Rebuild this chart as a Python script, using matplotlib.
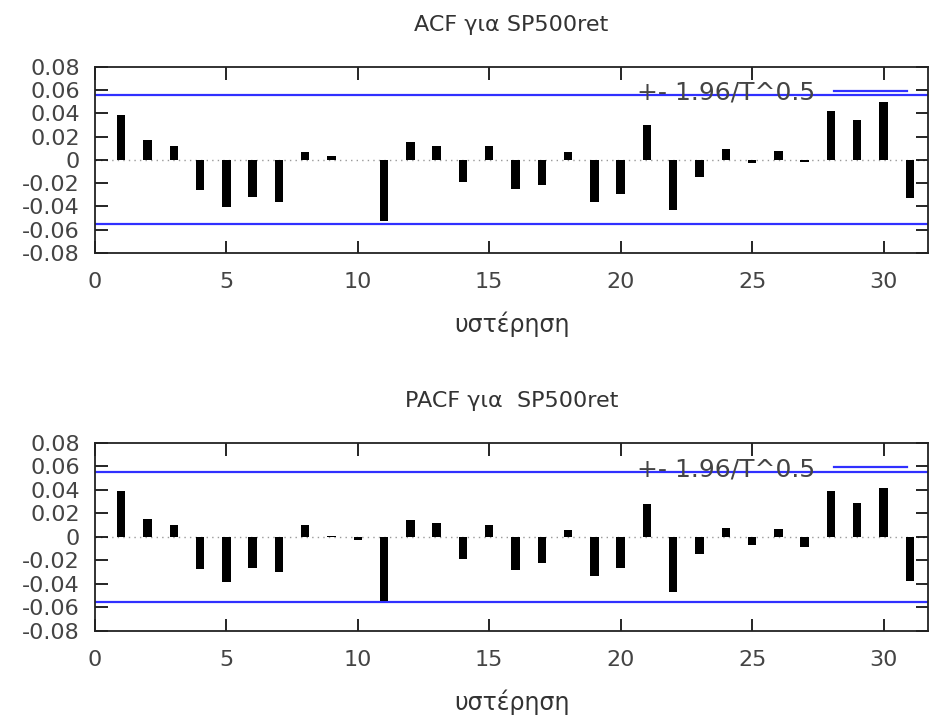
import matplotlib
matplotlib.use('Agg')
import matplotlib.pyplot as plt
import numpy as np

lags = np.arange(1, 32)
acf = [0.039, 0.017, 0.012, -0.026, -0.041, -0.032, -0.036, 0.007, 0.003, -0.0005,
       -0.053, 0.015, 0.012, -0.019, 0.012, -0.025, -0.022, 0.007, -0.036, -0.029,
       0.030, -0.043, -0.015, 0.0096, -0.003, 0.008, -0.0015, 0.042, 0.034, 0.050,
       -0.033]
pacf = [0.039, 0.0148, 0.010, -0.0275, -0.0386, -0.027, -0.030, 0.010, 0.001, -0.003,
        -0.055, 0.0145, 0.0116, -0.019, 0.010, -0.028, -0.022, 0.006, -0.033, -0.027,
        0.0275, -0.047, -0.015, 0.0077, -0.0074, 0.0068, -0.0085, 0.039, 0.029, 0.0417,
        -0.038]
band = 0.0555
titles = ['ACF για SP500ret', 'PACF για  SP500ret']
xlabel = 'υστέρηση'
legend_label = '+- 1.96/T^0.5'

plt.rcParams['font.family'] = ['DejaVu Sans']
fig = plt.figure(figsize=(9.31, 7.2), dpi=100)
rects = [[0.102, 0.649, 0.895, 0.258], [0.102, 0.124, 0.895, 0.261]]

for rect, vals, title in zip(rects, [acf, pacf], titles):
    ax = fig.add_axes(rect)
    ax.axhline(0, color='#999999', lw=1, ls=(0, (1, 3)), zorder=1)
    ax.bar(lags, vals, width=0.32, color='black', zorder=3)
    ax.axhline(band, color='#3030ff', lw=1.6, zorder=2, label=legend_label)
    ax.axhline(-band, color='#3030ff', lw=1.6, zorder=2)
    ax.set_xlim(0, 31.7)
    ax.set_ylim(-0.08, 0.08)
    ax.set_xticks(np.arange(0, 31, 5))
    ax.set_yticks(np.arange(-0.08, 0.081, 0.02))
    ax.set_yticklabels(['%g' % round(v, 2) for v in np.arange(-0.08, 0.081, 0.02)])
    ax.tick_params(direction='in', length=9, width=1.2, top=True, right=True,
                   labelsize=16, labelcolor='#444444')
    ax.tick_params(axis='x', pad=14)
    ax.tick_params(axis='y', pad=11)
    for s in ax.spines.values():
        s.set_linewidth(1.3)
        s.set_color('#222222')
    ax.set_title(title, fontsize=16, color='#333333', pad=26)
    ax.set_xlabel(xlabel, fontsize=17, color='#333333', labelpad=14)
    ax.legend(loc='center right', bbox_to_anchor=(0.974, 0.86), frameon=False,
              markerfirst=False, fontsize=18, handlelength=2.9, borderpad=0,
              borderaxespad=0, handletextpad=0.75, labelcolor='#444444')

fig.savefig('out.png', dpi=100)
